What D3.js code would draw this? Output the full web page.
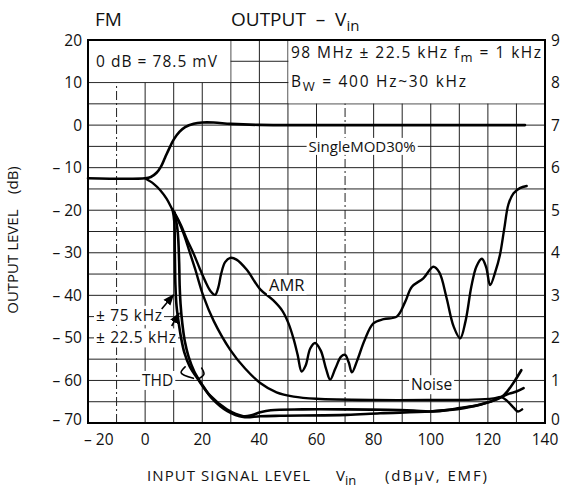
<!DOCTYPE html>
<html><head><meta charset="utf-8">
<script src="https://cdn.jsdelivr.net/npm/d3@7"></script>
<style>
body{margin:0;background:#fff}
svg{display:block}
text{font-family:"Open Sans","DejaVu Sans",sans-serif;fill:#111}
</style>
</head><body>
<svg id="c" width="562" height="492"></svg>
<script>
// ---------- data ----------
const xTicks = [-20, 0, 20, 40, 60, 80, 100, 120, 140];
const yTicks = [20, 10, 0, -10, -20, -30, -40, -50, -60, -70];
const yRightTicks = [0, 1, 2, 3, 4, 5, 6, 7, 8, 9];

// Output level, Single MOD 30%  [Vin dBuV, dB]
const outputSingleMod = [[-20,-12.5],[0,-12.5],[2,-12.2],[4,-11.2],[5.5,-9.8],[7,-7.6],[8.5,-5.4],[10,-3.4],[12,-1.6],[14,-0.5],[17,0.3],[20,0.6],[24,0.6],[30,0.3],[40,0.05],[80,0],[133,0]];
// Noise
const noise = [[0,-12.5],[3,-13.8],[5.3,-15.3],[7.5,-17.3],[9.5,-19.8],[11.5,-22.3],[13.4,-25.4],[15.2,-29],[17.5,-33.8],[20.4,-40.2],[24,-46],[29.8,-52.8],[35,-57.2],[40.3,-60.6],[46,-62.8],[52,-63.8],[60,-64.3],[80,-64.6],[100,-64.6],[115,-64.5],[122,-64.2],[124.8,-63.9],[127,-65],[129,-66.4],[130.5,-67.3],[132,-66.8]];
// AMR
const amr = [[9.5,-19.8],[10.8,-21.2],[12.6,-23.6],[14.6,-26.8],[16.9,-30.1],[19,-33.5],[21,-36.6],[23,-39.1],[24.5,-39.9],[25.6,-38.2],[26.6,-35],[28,-32.2],[29.8,-31.2],[32,-31.6],[35.6,-34],[40.3,-38.6],[44.9,-41.2],[48,-43.6],[50.2,-46.6],[52,-50.3],[53.4,-54],[54.8,-57.9],[56.2,-56.5],[57.8,-52.5],[59.5,-51.2],[61.5,-53],[63.4,-57.4],[64.8,-59.8],[66.6,-57.2],[68.6,-54.4],[70,-54],[71.3,-55.8],[72.4,-58.1],[74.2,-55.4],[76.8,-50.6],[79.9,-46.6],[83.5,-45.6],[88.1,-45],[91,-41.6],[93.4,-38],[97.4,-36],[100.9,-33.3],[103,-34.6],[105.5,-40.5],[108,-47.3],[110.3,-50.1],[112.2,-46],[114.2,-38],[116,-33.2],[117.9,-31.4],[119.4,-33.4],[120.8,-37.6],[122.6,-34.5],[124.2,-30.6],[125.7,-24.5],[127.2,-18.6],[129,-16],[131.2,-14.8],[133.6,-14.3]];
// THD, dev. +-75 kHz
const thd75 = [[9.6,-19.8],[10.2,-22.5],[10.4,-30],[10.6,-37.5],[11,-42.5],[11.7,-46.2],[12.6,-50],[13.8,-53.6],[15.6,-56.7],[18.7,-59.9],[22.8,-63.6],[28.6,-66.8],[34.4,-68.4],[37.2,-68.2],[40.3,-67.5],[44,-67],[55,-66.8],[70.6,-66.8],[85,-66.9],[94,-67.1],[99.8,-67.3],[105,-67],[110,-66.5],[117.3,-65.7],[121.5,-64.8],[125,-63.8],[127.5,-63.1],[130,-62.6],[132.5,-61.8]];
// THD, dev. +-22.5 kHz
const thd225 = [[10.3,-20.5],[11.4,-25],[11.9,-32],[12.1,-38],[12.4,-42],[13,-46.5],[13.9,-50.8],[15.2,-54.4],[17.2,-57.9],[19.8,-60.8],[23.4,-64.2],[28.8,-67.2],[34.4,-68.6],[40.3,-68.4],[47.3,-68.3],[70.6,-68.1],[82.3,-67.7],[99.8,-67.3],[111.5,-66.5],[120.8,-65],[124.8,-63.9],[127,-62.4],[129.5,-60],[131.7,-57.6]];

// ---------- layout ----------
const svg = d3.select("#c");
const L = 88, R = 545, T = 40, B = 423;
const x = d3.scaleLinear().domain([-20, 140]).range([L, R]);
const y = d3.scaleLinear().domain([-70, 20]).range([B, T]);
const yR = d3.scaleLinear().domain([0, 9]).range([B, T]);
const fmt = d => d < 0 ? "\u2013 " + Math.abs(d) : String(d);

// grid
const g = svg.append("g");
const vLines = d3.range(-10, 140, 10);
const hLines = d3.range(-65, 20, 5);
const dashedV = new Set([-10, 70]);
g.selectAll("line.v").data(vLines).join("line")
  .attr("x1", d => x(d)).attr("x2", d => x(d))
  .attr("y1", T).attr("y2", B)
  .attr("stroke", "#222").attr("stroke-width", 1)
  .attr("stroke-dasharray", d => dashedV.has(d) ? "9,3,2,3" : null);
g.selectAll("line.h").data(hLines).join("line")
  .attr("x1", L).attr("x2", R)
  .attr("y1", d => y(d)).attr("y2", d => y(d))
  .attr("stroke", "#222").attr("stroke-width", 1);

// note boxes (cover grid inside)
svg.append("rect").attr("x", x(-20) + 1).attr("y", y(20) + 1)
  .attr("width", x(30) - x(-20) - 1.5).attr("height", y(10) - y(20) - 1.5).attr("fill", "#fff");
svg.append("rect").attr("x", x(50) + 0.5).attr("y", y(20) + 1)
  .attr("width", x(140) - x(50) - 1.5).attr("height", y(5) - y(20) - 1.5).attr("fill", "#fff");

// helper: text with white background
function label(px, py, str, opts = {}) {
  const t = svg.append("text").attr("x", px).attr("y", py)
    .attr("font-size", opts.size || 15)
    .attr("text-anchor", opts.anchor || "start")
    .text(str);
  if (opts.len) t.attr("textLength", opts.len);
  if (opts.bg) {
    const b = t.node().getBBox();
    svg.insert("rect", () => t.node())
      .attr("x", b.x - 2).attr("y", b.y + 2)
      .attr("width", b.width + 4).attr("height", b.height - 3)
      .attr("fill", "#fff");
  }
  return t;
}

// curves
const line = d3.line().x(d => x(d[0])).y(d => y(d[1])).curve(d3.curveCatmullRom.alpha(0.5));
const cg = svg.append("g").attr("fill", "none").attr("stroke", "#000")
  .attr("stroke-linejoin", "round").attr("stroke-linecap", "round");

// labels on the grid (with white background)
label(x(76), y(-5) + 5.5, "SingleMOD30%", {size: 15, anchor: "middle", bg: true});
label(x(100.3), y(-61) + 5.5, "Noise", {size: 15.5, anchor: "middle", bg: true});
label(x(49.6), y(-37.6) + 5.8, "AMR", {size: 16.5, anchor: "middle", bg: true});
label(x(4.4), y(-60) + 5.5, "THD", {size: 15.5, anchor: "middle", bg: true});
label(x(-17.2), y(-46), "\u00b1 75 kHz", {size: 15.5, bg: true, len: 66});
label(x(-17.2), y(-51.3), "\u00b1 22.5 kHz", {size: 15.5, bg: true, len: 80});

cg.append("path").attr("d", line(outputSingleMod)).attr("stroke-width", 2.6);
cg.append("path").attr("d", line(noise)).attr("stroke-width", 2.4);
cg.append("path").attr("d", line(amr)).attr("stroke-width", 2.4);
cg.append("path").attr("d", line(thd75)).attr("stroke-width", 2.6);
cg.append("path").attr("d", line(thd225)).attr("stroke-width", 2.6);

// THD bracket marks
const bracketA = [[16.9,-59.5],[12.6,-58.2],[14,-56.8]];
const bracketB = [[19.8,-57.1],[20.6,-58.5],[19,-59.5]];
const lin = d3.line().x(d => x(d[0])).y(d => y(d[1])).curve(d3.curveCatmullRom);
cg.append("path").attr("d", lin(bracketA)).attr("stroke-width", 1.6);
cg.append("path").attr("d", lin(bracketB)).attr("stroke-width", 1.6);

// arrows
svg.append("defs").append("marker").attr("id", "ah").attr("viewBox", "0 0 10 10")
  .attr("refX", 9).attr("refY", 5).attr("markerWidth", 7).attr("markerHeight", 7)
  .attr("orient", "auto").append("path").attr("d", "M0,1L10,5L0,9z").attr("fill", "#000");
const arrows = [[[5.8,-43.2],[9.9,-39.9]], [[9.3,-47.2],[11.9,-44.2]]];
svg.selectAll("line.arr").data(arrows).join("line")
  .attr("x1", d => x(d[0][0])).attr("y1", d => y(d[0][1]))
  .attr("x2", d => x(d[1][0])).attr("y2", d => y(d[1][1]))
  .attr("stroke", "#000").attr("stroke-width", 1.6).attr("marker-end", "url(#ah)");

// frame
svg.append("rect").attr("x", L).attr("y", T).attr("width", R - L).attr("height", B - T)
  .attr("fill", "none").attr("stroke", "#000").attr("stroke-width", 2);

// tick labels
const lowShift = d => d === yTicks[yTicks.length - 1] ? -4 : 0;
svg.append("g").selectAll("text").data(yTicks).join("text")
  .attr("x", L - 6).attr("y", d => y(d) + lowShift(d)).attr("dy", "0.36em")
  .attr("text-anchor", "end").attr("font-size", 15.5).text(fmt);
svg.append("g").selectAll("text").data(yRightTicks).join("text")
  .attr("x", R + 6).attr("y", d => yR(d) - (d === 0 ? 4 : 0)).attr("dy", "0.36em")
  .attr("text-anchor", "start").attr("font-size", 15.5).text(d => d);
svg.append("g").selectAll("text").data(xTicks).join("text")
  .attr("x", (d, i) => i === 0 ? x(d) - 4 : x(d))
  .attr("y", B + 22)
  .attr("text-anchor", (d, i) => i === 0 ? "start" : "middle")
  .attr("font-size", 15.5).text(fmt);

// note box texts
svg.append("text").attr("x", x(-20) + 8).attr("y", 67).attr("font-size", 15.5)
  .attr("textLength", 121).text("0 dB = 78.5 mV");
const t1 = svg.append("text").attr("x", x(50) + 3).attr("y", 58).attr("font-size", 15.5)
  .attr("textLength", 250);
t1.append("tspan").text("98 MHz \u00b1 22.5 kHz  f");
t1.append("tspan").attr("dy", 4).attr("font-size", 13).text("m");
t1.append("tspan").attr("dy", -4).text(" = 1 kHz");
const t2 = svg.append("text").attr("x", x(50) + 3).attr("y", 87).attr("font-size", 15.5)
  .attr("textLength", 175);
t2.append("tspan").text("B");
t2.append("tspan").attr("dy", 4).attr("font-size", 13).text("W");
t2.append("tspan").attr("dy", -4).text(" = 400 Hz~30 kHz");

// titles
svg.append("text").attr("x", 95).attr("y", 26).attr("font-size", 19).text("FM");
const tt = svg.append("text").attr("x", 231).attr("y", 26).attr("font-size", 19).attr("xml:space", "preserve");
tt.append("tspan").text("OUTPUT  \u2013  V");
tt.append("tspan").attr("dy", 5).attr("font-size", 15).text("in");

svg.append("text").attr("x", 147).attr("y", 481).attr("font-size", 15)
  .attr("textLength", 163).text("INPUT SIGNAL LEVEL");
const vt = svg.append("text").attr("x", 336).attr("y", 481).attr("font-size", 15);
vt.append("tspan").text("V");
vt.append("tspan").attr("dy", 4).attr("font-size", 13).text("in");
svg.append("text").attr("x", 385).attr("y", 481).attr("font-size", 15)
  .attr("textLength", 102).text("(dB\u03bcV, EMF)");

svg.append("text").attr("transform", "translate(18,240) rotate(-90)")
  .attr("text-anchor", "middle").attr("font-size", 15).attr("xml:space", "preserve")
  .text("OUTPUT LEVEL    (dB)");
</script>
</body></html>
